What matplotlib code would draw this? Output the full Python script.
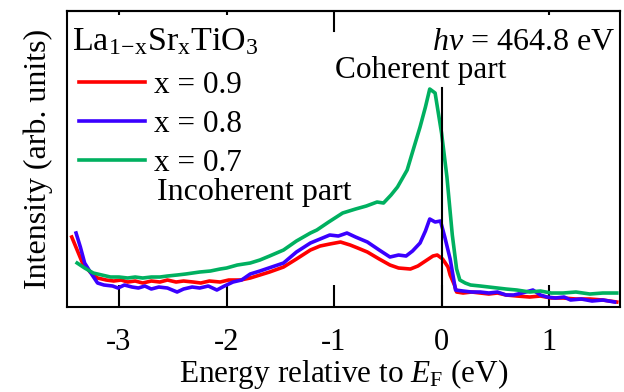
import numpy as np
import matplotlib
matplotlib.use('Agg')
import matplotlib.pyplot as plt

plt.rcParams['font.family'] = ['Liberation Serif', 'DejaVu Serif']
plt.rcParams['mathtext.fontset'] = 'custom'
plt.rcParams['mathtext.rm'] = 'Liberation Serif'
plt.rcParams['mathtext.it'] = 'Liberation Serif:italic'
plt.rcParams['axes.unicode_minus'] = False

# spectra (energy in eV, intensity in arb. units)
e_09 = [-3.44, -3.39, -3.34, -3.27, -3.20, -3.12, -3.05, -2.98, -2.92, -2.85, -2.78, -2.70,
        -2.62, -2.55, -2.47, -2.40, -2.31, -2.24, -2.16, -2.06, -1.98, -1.87, -1.78, -1.69,
        -1.60, -1.47, -1.35, -1.22, -1.13, -1.04, -0.94, -0.85, -0.78, -0.69, -0.58, -0.48,
        -0.40, -0.29, -0.22, -0.15, -0.08, -0.04, 0.01, 0.06, 0.08, 0.12, 0.14, 0.20,
        0.28, 0.36, 0.44, 0.52, 0.60, 0.70, 0.82, 0.92, 1.02, 1.13, 1.25, 1.38, 1.50, 1.63]
i_09 = [70, 57, 44, 35, 29, 27, 26, 27, 25, 26, 24, 26,
        25, 27, 25, 26, 25, 24, 26, 25, 27, 27, 29, 32,
        35, 40, 48, 57, 61, 63, 65, 62, 59, 55, 48, 42,
        39, 38, 41, 46, 51, 52, 48, 40, 32, 22, 15, 14,
        15, 14, 13, 14, 12, 11, 10, 11, 9, 9, 8, 8, 7, 5]

e_08 = [-3.40, -3.36, -3.32, -3.25, -3.20, -3.14, -3.06, -3.01, -2.95, -2.88, -2.82, -2.76,
        -2.70, -2.63, -2.55, -2.46, -2.40, -2.32, -2.25, -2.17, -2.09, -2.02, -1.94, -1.86,
        -1.78, -1.69, -1.58, -1.47, -1.35, -1.22, -1.13, -1.04, -0.96, -0.88, -0.80, -0.69,
        -0.58, -0.48, -0.40, -0.33, -0.27, -0.20, -0.15, -0.11, -0.06, -0.01, 0.03, 0.08,
        0.13, 0.20, 0.28, 0.36, 0.44, 0.52, 0.60, 0.67, 0.75, 0.85, 0.92, 0.98, 1.06, 1.14,
        1.20, 1.30, 1.40, 1.50, 1.61]
i_08 = [74, 60, 44, 32, 24, 22, 21, 19, 22, 20, 19, 21,
        18, 20, 19, 15, 18, 20, 19, 21, 17, 21, 25, 27,
        33, 36, 40, 44, 55, 64, 68, 72, 71, 74, 70, 65,
        57, 50, 52, 51, 56, 64, 76, 88, 85, 86, 70, 48,
        17, 16, 15, 15, 14, 15, 12, 12, 14, 17, 12, 10, 9, 10,
        7, 8, 6, 7, 5]

e_07 = [-3.39, -3.32, -3.24, -3.16, -3.08, -3.00, -2.92, -2.85, -2.78, -2.70, -2.62, -2.55,
        -2.46, -2.38, -2.25, -2.15, -2.06, -2.00, -1.90, -1.78, -1.69, -1.60, -1.47, -1.35,
        -1.22, -1.16, -1.05, -0.92, -0.80, -0.70, -0.60, -0.54, -0.47, -0.41, -0.32, -0.27,
        -0.20, -0.15, -0.11, -0.06, 0.00, 0.05, 0.10, 0.14, 0.17, 0.22, 0.27, 0.36,
        0.44, 0.52, 0.60, 0.70, 0.82, 0.92, 1.02, 1.13, 1.25, 1.38, 1.50, 1.63]
i_07 = [44, 39, 34, 32, 30, 30, 29, 30, 29, 30, 30, 31,
        32, 33, 35, 36, 38, 39, 42, 44, 47, 51, 57, 66,
        74, 77, 85, 94, 98, 101, 105, 104, 112, 120, 137, 155,
        180, 200, 218, 214, 174, 130, 72, 38, 27, 24, 22, 21,
        20, 19, 18, 17, 15, 16, 14, 14, 15, 13, 14, 14]

labels = ['x = 0.9', 'x = 0.8', 'x = 0.7']
colors = ['#ff0000', '#3a00ff', '#00b060']
x_ticks = [-3, -2, -1, 0, 1]
top_ticks = [-3, -2, 1]

fig = plt.figure(figsize=(6.24, 3.92), dpi=100)
ax = fig.add_axes([0.1069, 0.2168, 0.8867, 0.7551])

for e, i, lab, c in zip([e_09, e_08, e_07], [i_09, i_08, i_07], labels, colors):
    ax.plot(e, i, color=c, lw=2.6, label=lab, solid_joinstyle='round')

ax.set_xlim(-3.487, 1.66)
ax.set_ylim(0, 296)
ax.set_xticks(x_ticks)
ax.set_xticklabels([str(t) for t in x_ticks])
ax.set_yticks([])
ax.tick_params(axis='x', direction='in', length=16, width=1.5, pad=15, labelsize=22)
for s in ax.spines.values():
    s.set_linewidth(1.5)

# short ticks along the top edge
top = ax.secondary_xaxis('top')
top.set_xticks(top_ticks)
top.tick_params(direction='in', length=3, width=1.5, labeltop=False)
top.spines['top'].set_linewidth(1.5)

# Fermi level marker and long top tick
ax.axvline(0, ymin=0, ymax=0.74, color='black', lw=1.5, zorder=3)
ax.axvline(-1, ymin=1 - 20 / 296, ymax=1, color='black', lw=1.5)

ax.set_xlabel('Energy relative to $E_{\\mathrm{F}}$ (eV)', fontsize=22.5, labelpad=0)
ax.set_ylabel('Intensity (arb. units)', fontsize=23, labelpad=10)

ax.text(0.0096, 0.868, 'La$_{\\mathrm{1\\!-\\!x}}$Sr$_{\\mathrm{x}}$TiO$_{\\mathrm{3}}$',
        transform=ax.transAxes, fontsize=24.5, ha='left', va='baseline')
ax.text(0.991, 0.868, '$h\\nu$ = 464.8 eV', transform=ax.transAxes, fontsize=23,
        ha='right', va='baseline')
ax.text(0.639, 0.774, 'Coherent part', transform=ax.transAxes, fontsize=22.5,
        ha='center', va='baseline')
ax.text(0.164, 0.362, 'Incoherent part', transform=ax.transAxes, fontsize=23,
        ha='left', va='baseline')

ax.legend(loc='upper left', bbox_to_anchor=(0.0, 0.84), frameon=False, fontsize=22.5,
          handlelength=2.1, handletextpad=0.3, labelspacing=0.32, borderpad=0.39,
          borderaxespad=0.0)

fig.savefig('out.png', dpi=100)
